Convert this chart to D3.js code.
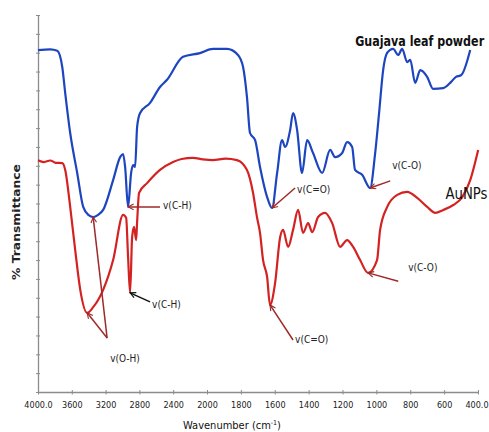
<!DOCTYPE html>
<html>
<head>
<meta charset="utf-8">
<script src="https://cdn.jsdelivr.net/npm/d3@7"></script>
<style>
  html, body { margin: 0; padding: 0; background: #fff; }
  svg { display: block; }
  .narrow { font-family: "Liberation Sans Narrow", "DejaVu Sans Condensed", "Arial Narrow", sans-serif; }
</style>
</head>
<body>
<svg id="chart" width="489" height="432"></svg>
<script>
// FTIR spectra: wavenumber (cm-1) vs % transmittance (arbitrary offset units)
const guajavaWn = [4000, 3855, 3772, 3713, 3678, 3619, 3536, 3465, 3400, 3347, 3288, 3229, 3111, 3028, 2993, 2969, 2934, 2898, 2875, 2851, 2827, 2792, 2674, 2556, 2473, 2284, 2083, 1965, 1882, 1817, 1787, 1764, 1746, 1716, 1687, 1645, 1616, 1586, 1557, 1539, 1509, 1492, 1468, 1439, 1409, 1374, 1320, 1273, 1244, 1202, 1173, 1143, 1126, 1084, 1037, 1008, 984, 960, 942, 920, 901, 871, 848, 818, 800, 771, 741, 700, 665, 606, 560, 530, 500, 446];
const guajavaT  = [90.7, 90.9, 90.5, 86.2, 79.3, 68.7, 58.1, 49.1, 46.9, 46.4, 47.0, 48.3, 56.2, 62.3, 63.1, 59.7, 49.1, 58.1, 60.2, 59.7, 70.3, 74.0, 76.7, 80.9, 82.8, 88.9, 89.9, 91.0, 91.0, 89.4, 86.2, 78.2, 68.7, 66.8, 59.7, 51.7, 48.8, 58.1, 66.8, 65.0, 69.5, 74.0, 69.5, 58.1, 66.8, 63.4, 58.1, 64.2, 62.3, 63.4, 66.3, 65.0, 58.9, 57.6, 54.1, 63.0, 74.0, 85.4, 89.4, 90.7, 91.0, 89.4, 91.0, 87.5, 88.1, 82.0, 85.4, 83.6, 80.4, 80.6, 82.2, 83.6, 84.0, 90.7];

const aunpWn = [4000, 3930, 3855, 3790, 3713, 3678, 3619, 3560, 3500, 3418, 3347, 3229, 3111, 2993, 2957, 2934, 2910, 2886, 2863, 2839, 2827, 2804, 2709, 2556, 2402, 2300, 2166, 2050, 1965, 1890, 1823, 1764, 1728, 1705, 1687, 1669, 1645, 1628, 1598, 1568, 1551, 1521, 1492, 1462, 1433, 1403, 1379, 1344, 1303, 1261, 1214, 1173, 1137, 1096, 1049, 996, 978, 936, 877, 818, 759, 700, 652, 605, 546, 493, 446, 399];
const aunpT  = [61.5, 61.0, 61.4, 60.8, 60.7, 58.9, 49.1, 37.7, 27.1, 21.0, 22.5, 27.1, 35.0, 47.0, 46.2, 35.8, 26.3, 41.1, 43.8, 40.3, 45.1, 52.8, 55.4, 58.9, 61.0, 61.8, 62.1, 61.7, 61.5, 61.9, 61.5, 58.9, 52.8, 46.4, 42.2, 35.0, 30.5, 23.1, 28.9, 41.1, 43.0, 38.5, 43.0, 48.3, 42.2, 44.8, 42.4, 46.4, 47.5, 44.8, 38.5, 40.3, 38.5, 35.0, 31.6, 35.0, 43.0, 49.1, 52.3, 53.1, 51.5, 49.1, 47.5, 48.3, 49.6, 51.7, 56.2, 64.2];

const xTickValues = [4000, 3600, 3200, 2800, 2400, 2000, 1800, 1600, 1400, 1200, 1000, 800, 600, 400];
const xTickLabels = ["4000.0", "3600", "3200", "2800", "2400", "2000", "1800", "1600", "1400", "1200", "1000", "800", "600", "400.0"];
const yTickValues = d3.range(0, 101, 5);

// band assignments: label text, label anchor (wn, T), arrow tail (wn, T), target series + band wavenumber
const bandLabels = ["v(O-H)", "v(C-H)", "v(C-H)", "v(C=O)", "v(C=O)", "v(C-O)", "v(C-O)"];
const bandLabelWn = [3146, 2520, 2650, 1468, 1480, 906, 812];
const bandLabelT  = [9.0, 49.6, 23.3, 53.6, 13.8, 60.2, 32.9];
const arrowTailWn = [3182, 2556, 2674, 1480, 1492, 918, 871];
const arrowTailT  = [14.3, 49.1, 23.9, 54.1, 13.8, 56.0, 29.4];
// each arrow points at [series, wavenumber]
const arrowTargets = [
  [["guajava", 3347], ["aunp", 3418]],
  [["guajava", 2934]],
  [["aunp", 2910]],
  [["guajava", 1616]],
  [["aunp", 1628]],
  [["guajava", 1037]],
  [["aunp", 1049]]
];
const arrowIsBlack = [false, false, true, false, false, false, false];

const seriesNames = ["Guajava leaf powder", "AuNPs"];

const svg = d3.select("#chart");
const x = d3.scaleLinear().domain([4000, 2000, 400]).range([38, 207, 478]);
const y = d3.scaleLinear().domain([0, 100]).range([392, 15]);

const axisColor = "#8c8c8c";
const blue = "#1d45c0";
const red = "#d42222";
const arrowRed = "#9e2a2a";

// arrowhead markers
const defs = svg.append("defs");
[["headRed", arrowRed], ["headBlack", "#111"]].forEach(([id, c]) => {
  defs.append("marker")
    .attr("id", id)
    .attr("viewBox", "0 0 10 10")
    .attr("refX", 9).attr("refY", 5)
    .attr("markerWidth", 7).attr("markerHeight", 7)
    .attr("markerUnits", "userSpaceOnUse")
    .attr("orient", "auto")
    .append("path")
    .attr("d", "M1,1 L9,5 L1,9")
    .attr("fill", "none")
    .attr("stroke", c)
    .attr("stroke-width", 1.6);
});

// axes
const xAxis = d3.axisBottom(x)
  .tickValues(xTickValues)
  .tickFormat((d, i) => xTickLabels[i])
  .tickSizeInner(3).tickSizeOuter(0).tickPadding(7);
const gx = svg.append("g").attr("transform", `translate(0,${y(0)})`).call(xAxis);
gx.select(".domain").attr("stroke", axisColor).attr("stroke-width", 1.3);
gx.selectAll(".tick line").attr("stroke", axisColor).attr("y1", -2).attr("y2", 2.5);
gx.selectAll(".tick text")
  .attr("class", "narrow")
  .attr("font-size", 9)
  .attr("fill", "#222")
  .attr("dx", d => d === 400 ? -1.5 : 0);

const yAxis = d3.axisLeft(y).tickValues(yTickValues).tickFormat("").tickSizeInner(3).tickSizeOuter(0);
const gy = svg.append("g").attr("transform", `translate(${x(4000)},0)`).call(yAxis);
gy.select(".domain").attr("stroke", axisColor).attr("stroke-width", 1.3);
gy.selectAll(".tick line").attr("stroke", axisColor).attr("x1", 2).attr("x2", -2);

// axis titles
const xt = svg.append("text")
  .attr("class", "narrow")
  .attr("x", 232).attr("y", 429)
  .attr("text-anchor", "middle")
  .attr("font-size", 11).attr("fill", "#111");
xt.append("tspan").text("Wavenumber (cm");
xt.append("tspan").attr("font-size", 7).attr("dy", -4).text("-1");
xt.append("tspan").attr("dy", 4).text(")");

svg.append("text")
  .attr("transform", `translate(20,222) rotate(-90)`)
  .attr("text-anchor", "middle")
  .attr("font-family", "'DejaVu Sans', sans-serif")
  .attr("font-weight", "bold")
  .attr("font-size", 10.5)
  .attr("fill", "#222")
  .attr("textLength", 116).attr("lengthAdjust", "spacingAndGlyphs")
  .text("% Transmittance");

// spectra
const line = d3.line()
  .x(d => x(d[0]))
  .y(d => y(d[1]))
  .curve(d3.curveMonotoneX);

const guajava = guajavaWn.map((w, i) => [w, guajavaT[i]]);
const aunp = aunpWn.map((w, i) => [w, aunpT[i]]);
const seriesData = { guajava, aunp };

svg.append("path").datum(guajava)
  .attr("d", line).attr("fill", "none")
  .attr("stroke", blue).attr("stroke-width", 2.2).attr("stroke-linejoin", "round");
svg.append("path").datum(aunp)
  .attr("d", line).attr("fill", "none")
  .attr("stroke", red).attr("stroke-width", 2.2).attr("stroke-linejoin", "round");

// series labels, squeezed horizontally to a fixed width
function fittedLabel(text, wn, t, size, weight, width) {
  const el = svg.append("text")
    .attr("class", "narrow")
    .attr("font-size", size).attr("font-weight", weight).attr("fill", "#111")
    .text(text);
  const natural = el.node().getComputedTextLength();
  const sx = Math.min(1, width / natural);
  el.attr("transform", `translate(${x(wn)},${y(t)}) scale(${sx},1)`);
}
fittedLabel(seriesNames[0], 1125, 91.8, 14.5, "bold", 129);
fittedLabel(seriesNames[1], 592, 51.3, 15, "normal", 42);

// band annotations
function pointAt(series, wn) {
  const data = seriesData[series];
  let best = data[0];
  data.forEach(d => { if (Math.abs(d[0] - wn) < Math.abs(best[0] - wn)) best = d; });
  return best;
}

bandLabels.forEach((lab, i) => {
  const col = arrowIsBlack[i] ? "#111" : arrowRed;
  arrowTargets[i].forEach(([s, wn]) => {
    const p = pointAt(s, wn);
    svg.append("line")
      .attr("x1", x(arrowTailWn[i])).attr("y1", y(arrowTailT[i]))
      .attr("x2", x(p[0])).attr("y2", y(p[1]))
      .attr("stroke", col).attr("stroke-width", 1.5)
      .attr("marker-end", `url(#${arrowIsBlack[i] ? "headBlack" : "headRed"})`);
  });
  svg.append("text")
    .attr("class", "narrow")
    .attr("x", x(bandLabelWn[i])).attr("y", y(bandLabelT[i]))
    .attr("dy", "0.35em")
    .attr("font-size", 10).attr("fill", "#222")
    .text(lab);
});
</script>
</body>
</html>
